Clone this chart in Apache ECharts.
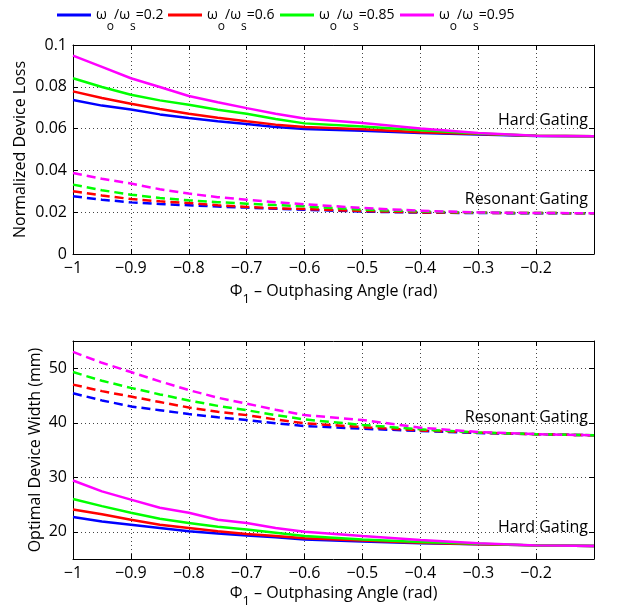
<!DOCTYPE html>
<html>
<head>
<meta charset="utf-8">
<script src="https://cdn.jsdelivr.net/npm/echarts@6/dist/echarts.min.js"></script>
<style>
  html, body { margin: 0; padding: 0; background: #fff; }
  #chart { width: 618px; height: 610px; }
</style>
</head>
<body>
<div id="chart"></div>
<script>
// Outphasing angle samples (rad)
const phi = [-1, -0.95, -0.9, -0.85, -0.8, -0.75, -0.7, -0.65, -0.6, -0.5, -0.4, -0.3, -0.2, -0.1];

const ratioNames = ['ωo/ωs=0.2', 'ωo/ωs=0.6', 'ωo/ωs=0.85', 'ωo/ωs=0.95'];
const ratioColors = ['#0000ff', '#ff0000', '#00ff00', '#ff00ff'];

// Normalized device loss, hard gating (solid)
const lossHard02  = [0.0737, 0.0710, 0.0691, 0.0668, 0.0651, 0.0635, 0.0622, 0.0608, 0.0598, 0.0590, 0.0579, 0.0572, 0.0565, 0.0563];
const lossHard06  = [0.0778, 0.0746, 0.0719, 0.0694, 0.0671, 0.0652, 0.0635, 0.0619, 0.0608, 0.0597, 0.0582, 0.0574, 0.0566, 0.0563];
const lossHard085 = [0.0841, 0.0799, 0.0762, 0.0735, 0.0714, 0.0690, 0.0671, 0.0646, 0.0625, 0.0610, 0.0592, 0.0576, 0.0566, 0.0563];
const lossHard095 = [0.0949, 0.0895, 0.0841, 0.0799, 0.0756, 0.0726, 0.0698, 0.0671, 0.0648, 0.0627, 0.0600, 0.0579, 0.0566, 0.0563];

// Normalized device loss, resonant gating (dashed)
const lossRes02  = [0.0276, 0.0260, 0.0247, 0.0239, 0.0233, 0.0227, 0.0222, 0.0217, 0.0212, 0.0203, 0.0198, 0.0196, 0.0195, 0.0195];
const lossRes06  = [0.0300, 0.0280, 0.0263, 0.0252, 0.0244, 0.0233, 0.0225, 0.0219, 0.0215, 0.0206, 0.0199, 0.0197, 0.0196, 0.0195];
const lossRes085 = [0.0332, 0.0305, 0.0284, 0.0268, 0.0257, 0.0248, 0.0241, 0.0234, 0.0228, 0.0212, 0.0204, 0.0198, 0.0196, 0.0195];
const lossRes095 = [0.0388, 0.0360, 0.0337, 0.0310, 0.0289, 0.0272, 0.0260, 0.0248, 0.0238, 0.0220, 0.0207, 0.0199, 0.0196, 0.0195];

// Optimal device width (mm), hard gating (solid)
const widthHard02  = [22.7, 21.9, 21.3, 20.7, 20.1, 19.7, 19.3, 19.0, 18.6, 18.2, 17.9, 17.7, 17.5, 17.4];
const widthHard06  = [24.1, 23.2, 22.2, 21.3, 20.7, 20.1, 19.6, 19.2, 18.8, 18.4, 18.0, 17.7, 17.5, 17.4];
const widthHard085 = [26.0, 24.7, 23.5, 22.4, 21.6, 20.9, 20.4, 19.8, 19.2, 18.6, 18.1, 17.8, 17.5, 17.4];
const widthHard095 = [29.4, 27.4, 25.9, 24.4, 23.5, 22.2, 21.6, 20.7, 20.0, 19.2, 18.5, 17.9, 17.5, 17.4];

// Optimal device width (mm), resonant gating (dashed)
const widthRes02  = [45.4, 44.1, 43.0, 42.3, 41.6, 41.0, 40.5, 39.9, 39.4, 38.9, 38.5, 38.1, 37.9, 37.7];
const widthRes06  = [47.0, 45.8, 44.8, 43.8, 42.8, 42.0, 41.4, 40.6, 39.9, 39.2, 38.6, 38.2, 37.9, 37.7];
const widthRes085 = [49.3, 47.7, 46.4, 45.2, 44.1, 43.1, 42.3, 41.4, 40.6, 39.6, 38.8, 38.2, 37.9, 37.7];
const widthRes095 = [53.0, 51.0, 49.3, 47.6, 46.0, 44.6, 43.5, 42.4, 41.4, 40.5, 39.1, 38.3, 37.9, 37.7];

const xTicks = [-1, -0.9, -0.8, -0.7, -0.6, -0.5, -0.4, -0.3, -0.2];
const lossTicks = [0, 0.02, 0.04, 0.06, 0.08, 0.1];
const widthTicks = [20, 30, 40, 50];

const lossHard = [lossHard02, lossHard06, lossHard085, lossHard095];
const lossRes = [lossRes02, lossRes06, lossRes085, lossRes095];
const widthHard = [widthHard02, widthHard06, widthHard085, widthHard095];
const widthRes = [widthRes02, widthRes06, widthRes085, widthRes095];

const FONT = 'Open Sans';
const FS = 16;
const minus = s => String(s).replace('-', '\u2212');
const pairs = ys => phi.map((x, i) => [x, ys[i]]);

// Rich-text styles: main text plus a lowered subscript
const makeRich = (size, subSize, drop) => ({
  t: { fontFamily: FONT, fontSize: size, color: '#000', verticalAlign: 'middle' },
  sub: { fontFamily: FONT, fontSize: subSize, color: '#000', verticalAlign: 'bottom', padding: [drop * 2, 0, 0, 0] }
});
const legendRich = makeRich(14, 12, 12);
const nameRich = makeRich(FS, 13, 8);

const ratioLabel = name => {
  const v = name.split('=')[1];
  return '{t|ω}{sub|o}{t|/ω}{sub|s}{t|=' + v + '}';
};
const phiName = '{t|Φ}{sub|1}{t| \u2013 Outphasing Angle (rad)}';

function xAxes(gridIndex, nameGap) {
  const common = {
    type: 'value', gridIndex, min: -1, max: -0.1, interval: 0.1,
    axisLine: { show: true, onZero: false, lineStyle: { color: '#000', width: 1 } },
    axisTick: { show: true, inside: true, length: 5, lineStyle: { color: '#000' } }
  };
  return [
    Object.assign({}, common, {
      position: 'bottom',
      name: phiName, nameLocation: 'middle', nameGap: nameGap,
      nameTextStyle: { rich: nameRich },
      axisLabel: {
        show: true, showMaxLabel: false, margin: 6,
        fontFamily: FONT, fontSize: FS, color: '#000',
        formatter: v => xTicks.some(t => Math.abs(t - v) < 1e-9) ? minus(Math.round(v * 10) / 10) : ''
      },
      splitLine: { show: true, lineStyle: { color: '#444', width: 1, type: [1, 3] } }
    }),
    Object.assign({}, common, {
      position: 'top', axisLabel: { show: false }, splitLine: { show: false }
    })
  ];
}

function yAxes(gridIndex, cfg) {
  const common = {
    type: 'value', gridIndex, min: cfg.min, max: cfg.max,
    axisLine: { show: true, onZero: false, lineStyle: { color: '#000', width: 1 } },
    axisTick: { show: true, inside: true, length: 5, lineStyle: { color: '#000' }, customValues: cfg.ticks }
  };
  if (cfg.interval) common.interval = cfg.interval;
  return [
    Object.assign({}, common, {
      position: 'left',
      name: cfg.name, nameLocation: 'middle', nameGap: cfg.nameGap, nameMoveOverlap: false,
      nameTextStyle: { fontFamily: FONT, fontSize: FS, color: '#000' },
      axisLabel: {
        show: true, margin: 6, fontFamily: FONT, fontSize: FS, color: '#000',
        customValues: cfg.ticks,
        formatter: v => String(Math.round(v * 1000) / 1000)
      },
      splitLine: { show: true, lineStyle: { color: '#444', width: 1, type: [1, 3] } }
    }),
    Object.assign({}, common, {
      position: 'right', axisLabel: { show: false }, splitLine: { show: false }
    })
  ];
}

const series = [];
function addSeries(sets, xIdx, yIdx, dashed, named) {
  sets.forEach((ys, k) => {
    series.push({
      type: 'line',
      name: named ? ratioNames[k] : ratioNames[k] + (dashed ? ' res' : ' hard') + xIdx,
      xAxisIndex: xIdx, yAxisIndex: yIdx,
      data: pairs(ys),
      showSymbol: false, symbol: 'none', smooth: false,
      lineStyle: { color: ratioColors[k], width: 2.5, type: dashed ? [9, 5] : 'solid' },
      itemStyle: { color: ratioColors[k] },
      z: 3 + k, animation: false
    });
  });
}
addSeries(lossHard, 0, 0, false, true);
addSeries(lossRes, 0, 0, true, false);
addSeries(widthRes, 2, 2, true, false);
addSeries(widthHard, 2, 2, false, false);

const legendLeft = [57, 168, 280, 400];
const legends = ratioNames.map((n, k) => ({
  left: legendLeft[k], top: 8, padding: 0,
  data: [n], icon: 'rect', itemWidth: 34, itemHeight: 3, itemGap: 0,
  selectedMode: false,
  formatter: ratioLabel,
  textStyle: { rich: legendRich, padding: [0, 0, 0, 0] }
}));

const annot = (text, right, yCenter) => ({
  type: 'text', right: right, top: yCenter - 8,
  style: { text, font: FS + 'px "' + FONT + '"', fill: '#000' }
});

const chart = echarts.init(document.getElementById('chart'), null, { renderer: 'canvas' });
chart.setOption({
  animation: false,
  backgroundColor: '#fff',
  legend: legends,
  grid: [
    { left: 73, top: 45, width: 521, height: 209, containLabel: false },
    { left: 73, top: 341, width: 521, height: 218, containLabel: false }
  ],
  xAxis: xAxes(0, 23).concat(xAxes(1, 20)),
  yAxis: yAxes(0, { min: 0, max: 0.1, interval: 0.02, ticks: lossTicks, name: 'Normalized Device Loss', nameGap: 45 })
    .concat(yAxes(1, { min: 15, max: 55, ticks: widthTicks, name: 'Optimal Device Width (mm)', nameGap: 30 })),
  series,
  graphic: [
    annot('Hard Gating', 30, 120),
    annot('Resonant Gating', 30, 199),
    annot('Resonant Gating', 30, 417),
    annot('Hard Gating', 30, 527)
  ]
});
</script>
</body>
</html>
